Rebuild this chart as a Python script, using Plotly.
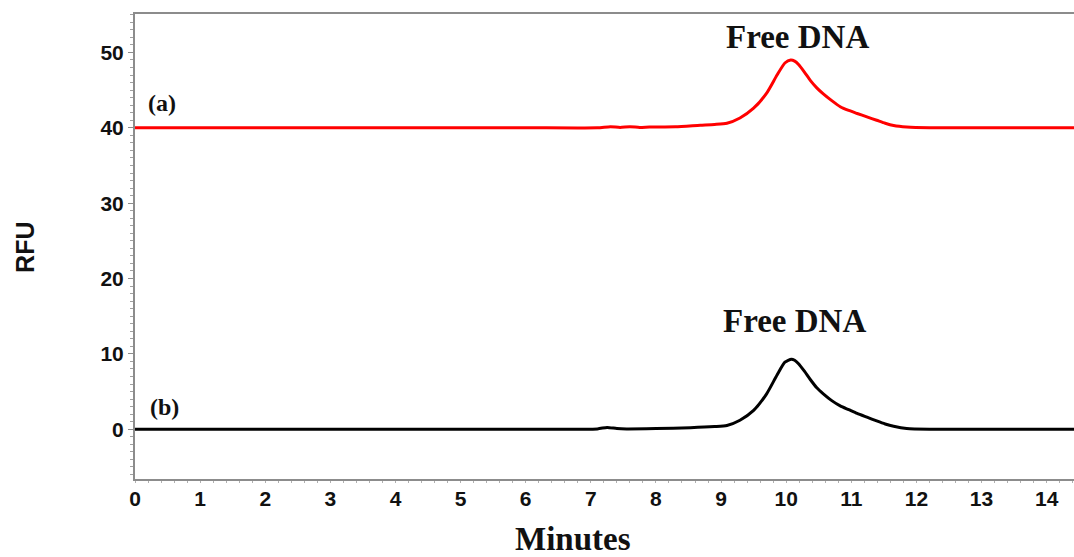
import plotly.graph_objects as go

# Trace (a) – red, offset baseline 40 RFU
time_a = [0.0, 2.0, 4.0, 6.0, 7.1, 7.3, 7.45, 7.6, 7.75, 7.9, 8.3, 8.68, 8.9, 9.09, 9.29, 9.50, 9.70,
          9.86, 9.98, 10.07, 10.13, 10.19, 10.28, 10.37, 10.47, 10.57, 10.70, 10.83, 10.96, 11.09,
          11.24, 11.39, 11.52, 11.65, 11.85, 12.2, 13.0, 14.5]
rfu_a = [40.0, 40.0, 40.0, 40.0, 40.0, 40.15, 40.05, 40.15, 40.05, 40.1, 40.15, 40.35, 40.45, 40.6,
         41.3, 42.6, 44.6, 47.0, 48.6, 49.0, 48.85, 48.4, 47.4, 46.3, 45.3, 44.5, 43.6, 42.8, 42.3,
         41.9, 41.45, 41.0, 40.6, 40.3, 40.1, 40.0, 40.0, 40.0]

# Trace (b) – black, baseline 0 RFU
time_b = [0.0, 2.0, 4.0, 6.0, 7.1, 7.25, 7.4, 7.55, 8.0, 8.53, 8.9, 9.09, 9.29, 9.50, 9.70, 9.86,
          9.98, 10.08, 10.13, 10.19, 10.28, 10.37, 10.47, 10.57, 10.70, 10.83, 10.96, 11.09, 11.24,
          11.39, 11.52, 11.65, 11.85, 12.2, 13.0, 14.5]
rfu_b = [0.0, 0.0, 0.0, 0.0, 0.05, 0.25, 0.1, 0.05, 0.1, 0.2, 0.35, 0.5, 1.2, 2.5, 4.7, 7.2,
         8.9, 9.3, 9.15, 8.7, 7.7, 6.6, 5.5, 4.7, 3.8, 3.1, 2.6, 2.1, 1.6, 1.1, 0.7, 0.4, 0.1,
         0.0, 0.0, 0.0]

x_ticks = list(range(0, 15))
y_ticks = [0, 10, 20, 30, 40, 50]

fig = go.Figure()
fig.add_trace(go.Scatter(x=time_a, y=rfu_a, mode="lines",
                         line=dict(color="#ff0000", width=3, shape="spline", smoothing=0.6)))
fig.add_trace(go.Scatter(x=time_b, y=rfu_b, mode="lines",
                         line=dict(color="#000000", width=3, shape="spline", smoothing=0.6)))

serif = "Liberation Serif"
sans = "Liberation Sans"

fig.update_layout(
    width=1074, height=557,
    margin=dict(l=135, r=0, t=14, b=78),
    plot_bgcolor="white", paper_bgcolor="white",
    showlegend=False,
    xaxis=dict(range=[0, 14.42], tickvals=x_ticks, ticktext=[str(v) for v in x_ticks],
               showgrid=False, zeroline=False, showline=True, linecolor="#8c8c8c", linewidth=2,
               mirror=True, ticks="", ticklen=0,
               minor=dict(ticks="outside", ticklen=2, dtick=0.2, tickcolor="#b0b0b0", tick0=0),
               tickfont=dict(family=sans, size=21, color="#111111", weight="bold")),
    yaxis=dict(range=[-6.6, 55.1], tickvals=y_ticks, ticktext=[str(v) for v in y_ticks],
               showgrid=False, zeroline=False, showline=True, linecolor="#8c8c8c", linewidth=2,
               ticks="outside", ticklen=5, tickcolor="#8c8c8c",
               minor=dict(ticks="outside", ticklen=3, dtick=1, tickcolor="#a0a0a0", tick0=0),
               tickfont=dict(family=sans, size=21, color="#111111", weight="bold")),
)

annots = [
    dict(x=10.17, y=52.1, text="Free DNA", xref="x", yref="y",
         font=dict(family=serif, size=33, color="#111111", weight="bold")),
    dict(x=10.13, y=14.3, text="Free DNA", xref="x", yref="y",
         font=dict(family=serif, size=33, color="#111111", weight="bold")),
    dict(x=0.42, y=43.3, text="(a)", xref="x", yref="y",
         font=dict(family=serif, size=24, color="#111111", weight="bold")),
    dict(x=0.46, y=2.9, text="(b)", xref="x", yref="y",
         font=dict(family=serif, size=24, color="#111111", weight="bold")),
    dict(x=(25 - 135) / 939, y=0.497, text="RFU", xref="paper", yref="paper", textangle=-90,
         font=dict(family=sans, size=25, color="#111111", weight="bold")),
    dict(x=(573 - 135) / 939, y=-0.128, text="Minutes", xref="paper", yref="paper",
         font=dict(family=serif, size=33, color="#111111", weight="bold")),
]
for a in annots:
    a.update(showarrow=False, xanchor="center", yanchor="middle")
    fig.add_annotation(**a)

fig.write_html("out.html")
